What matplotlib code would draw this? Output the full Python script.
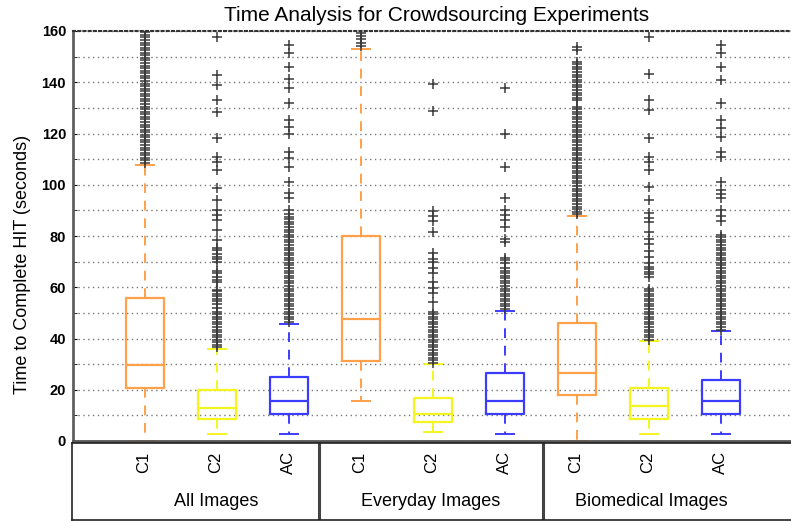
import numpy as np
import matplotlib.pyplot as plt
from matplotlib.lines import Line2D

plt.rcParams['font.family'] = ['Liberation Sans', 'DejaVu Sans']

# box labels, groups and colours
cond_labels = ['C1', 'C2', 'AC'] * 3
group_names = ['All Images', 'Everyday Images', 'Biomedical Images']

# box statistics (seconds)
q1 = [20.7, 8.6, 10.5, 31.3, 7.3, 10.5, 17.8, 8.6, 10.5]
med = [29.8, 12.9, 15.6, 47.7, 10.7, 15.6, 26.7, 13.7, 15.6]
q3 = [55.7, 19.9, 24.9, 80.1, 16.9, 26.7, 45.9, 20.7, 23.7]
whis_lo = [0.0, 2.6, 2.6, 15.5, 3.6, 2.6, 0.0, 2.6, 2.6]
whis_hi = [107.8, 35.9, 45.8, 152.8, 29.9, 50.7, 87.8, 39.1, 42.9]

# outliers
out_all_c1 = [108.5, 109.5, 110.5, 111.5, 112.5, 113.5, 114.5, 115.5, 116.5, 117.5, 118.5,
              119.5, 120.5, 121.5, 122.5, 123.5, 124.5, 125.5, 126.5, 127.5, 128.5, 129.5,
              130.5, 131.5, 132.5, 133.5, 134.5, 135.5, 136.5, 137.5, 138.5, 139.5, 140.5,
              141.5, 142.5, 143.5, 144.5, 145.5, 146.5, 147.5, 148.5, 149.5, 150.5, 151.5,
              152.5, 153.5, 154.5, 155.5, 156.5, 157.5, 158.5, 159.5]
out_all_c2 = [36.5, 37.5, 38.5, 39.5, 40.5, 41.5, 42.5, 43.5, 44.5, 45.5, 46.5, 47.5, 48.5,
              49.5, 50.5, 52, 53.5, 54.5, 55.5, 56.5, 57.5, 58.5, 59, 62, 63, 64, 65.5, 66.5,
              70, 71, 72, 73, 74.5, 75.3, 78.4, 82.3, 86.2, 88.2, 90.1, 94, 98.9, 105.8,
              108.8, 111, 118.1, 128.5, 133.1, 138.9, 142.8, 157.8]
out_all_ac = [46.5, 47.5, 48.5, 49.5, 50.5, 51.5, 52.5, 53.5, 54.5, 55.5, 56.5, 57.5, 58.5,
              59.5, 60.5, 61.5, 62.5, 63.5, 64.5, 65.5, 66.5, 67.5, 68.5, 69.5, 70.5, 71.5,
              72.5, 73.5, 74.5, 75.5, 76.5, 77.5, 78.5, 79.5, 80.5, 81.5, 82.5, 83.5, 84.5,
              85.5, 86.5, 87.5, 88.5, 90, 95, 96.7, 101.2, 107, 110.3, 112.9, 119.8, 122.7,
              125.3, 131.8, 137.6, 141.3, 146, 151.3, 154.5]
out_eve_c1 = [154.2, 155.5, 156.8, 158.1, 159.4]
out_eve_c2 = [30.5, 31.5, 32.5, 33.5, 34.5, 35.5, 36.5, 37.5, 38.5, 39.5, 40.5, 41.5, 42.5,
              43.5, 44.5, 45.5, 46.5, 47.5, 48.5, 49.5, 50.5, 54.4, 57.6, 59.7, 62.2, 65.4,
              67.4, 70, 70.9, 73.2, 81.7, 85.9, 87.8, 89.8, 128.8, 139.2]
out_eve_ac = [51.5, 52.5, 53.5, 54.5, 55.5, 56.5, 57.5, 58.5, 59.5, 60.5, 61.5, 62.5, 63.5,
              64.5, 65.5, 66.5, 67.4, 69.3, 70.6, 71.3, 77.8, 79, 83.6, 86.2, 88.2, 90.1,
              94.7, 107, 120, 137.9]
out_bio_c1 = [88.5, 89.5, 90.5, 91.5, 92.5, 93.5, 94.5, 95.5, 96.5, 97.5, 98.5, 99.5, 100.5,
              101.5, 102.5, 103.5, 104.5, 105.5, 106.5, 107.5, 108.5, 109.5, 110.5, 111.5,
              112.5, 113.5, 114.5, 115.5, 116.5, 117.5, 118.5, 119.5, 120.5, 121.5, 122.5,
              123.5, 124.5, 125.5, 126.5, 127.5, 128.5, 129.5, 130.5, 133, 134, 135, 136,
              137, 138, 139, 140, 141, 142, 143, 144, 145, 146, 147, 148, 152.6, 153.9]
out_bio_c2 = [39.5, 40.5, 41.5, 42.5, 43.5, 44.5, 45.5, 46.5, 47.5, 48.5, 49.5, 50.5, 51.5,
              52.5, 53.5, 54.5, 55.5, 56.5, 57.5, 58.5, 59.5, 64, 65, 66, 67, 68, 69.5, 72,
              74, 77, 79, 81.7, 85.6, 87, 89, 94, 99.2, 105.8, 109, 111, 118.1, 129.2, 133,
              143.1, 157.8]
out_bio_ac = [43.5, 44.5, 45.5, 46.5, 47.5, 48.5, 49.5, 50.5, 51.5, 52.5, 53.5, 54.5, 55.5,
              56.5, 57.5, 58.5, 59.5, 60.5, 61.5, 62.5, 63.5, 64.5, 65.5, 66.5, 67.5, 68.5,
              69.5, 70.5, 71.5, 72.5, 73.5, 74.5, 75.5, 76.5, 77.5, 78.5, 79.5, 80.5, 86,
              88, 90, 95, 96.5, 98, 101.2, 111, 112.9, 118.8, 122, 125.3, 131.8, 140.9,
              146, 151.3, 154.5]
outliers = [out_all_c1, out_all_c2, out_all_ac, out_eve_c1, out_eve_c2, out_eve_ac,
            out_bio_c1, out_bio_c2, out_bio_ac]

colors = {'C1': '#FFA04A', 'C2': '#F5F51E', 'AC': '#3C3CFF'}

fig = plt.figure(figsize=(7.91, 5.21), dpi=100)
ax = fig.add_axes([73 / 791, 80 / 521, 720 / 791, 410 / 521])

positions = np.arange(1, 10)
for i, p in enumerate(positions):
    st = dict(med=med[i], q1=q1[i], q3=q3[i], whislo=whis_lo[i], whishi=whis_hi[i],
              fliers=outliers[i], label=cond_labels[i])
    c = colors[cond_labels[i]]
    ax.bxp([st], positions=[p], widths=0.52, capwidths=0.26, showfliers=True,
           boxprops=dict(color=c, lw=1.6),
           medianprops=dict(color=c, lw=1.6),
           whiskerprops=dict(color=c, lw=1.4, linestyle=(0, (5, 4))),
           capprops=dict(color=c, lw=1.4),
           flierprops=dict(marker='+', markeredgecolor='#3a3a3a', markersize=7.5,
                           markeredgewidth=1.1, linestyle='none'))

ax.set_xlim(0, 10)
ax.set_ylim(0, 160)
ax.set_yticks(np.arange(0, 161, 20))
ax.set_yticks(np.arange(10, 160, 20), minor=True)
ax.set_yticklabels([str(v) for v in range(0, 161, 20)], fontsize=10.5, fontweight='bold')
ax.tick_params(axis='y', which='both', length=3, direction='in', pad=5)
ax.set_xticks([])
ax.yaxis.grid(True, which='both', linestyle=(0, (1, 2.5)), color='#777777', lw=1.0)
ax.set_axisbelow(True)
ax.spines['right'].set_visible(False)
ax.spines['left'].set_color('#606060')
ax.spines['left'].set_linewidth(2)
ax.spines['top'].set_linestyle((0, (1, 1.5)))
ax.spines['top'].set_color('#333333')
ax.spines['top'].set_linewidth(1.5)
ax.spines['bottom'].set_color('#555555')
ax.spines['bottom'].set_linewidth(2)

ax.set_ylabel('Time to Complete HIT (seconds)', fontsize=13)
ax.yaxis.set_label_coords(-0.058, 0.43)
fig.text(0.552, 0.970, 'Time Analysis for Crowdsourcing Experiments', fontsize=15,
         ha='center', va='center')

# label table under the boxes
tab = fig.add_axes([72 / 791, 1 / 521, 720 / 791, 77 / 521])
tab.set_xlim(0, 10)
tab.set_ylim(0, 1)
tab.set_xticks([])
tab.set_yticks([])
tab.spines['right'].set_visible(False)
for s in ['left', 'top', 'bottom']:
    tab.spines[s].set_color('#222222')
    tab.spines[s].set_linewidth(1.2)
for xs in [3.43, 6.54]:
    tab.add_line(Line2D([xs, xs], [0, 1], color='#444444', lw=2.2))
for i, p in enumerate(positions):
    tab.text(p, 0.75, cond_labels[i], rotation=90, fontsize=12, ha='center', va='center')
for g, xc in zip(group_names, [2.0, 4.98, 8.05]):
    tab.text(xc, 0.24, g, fontsize=13, ha='center', va='center')

fig.savefig('out.png', dpi=100)
